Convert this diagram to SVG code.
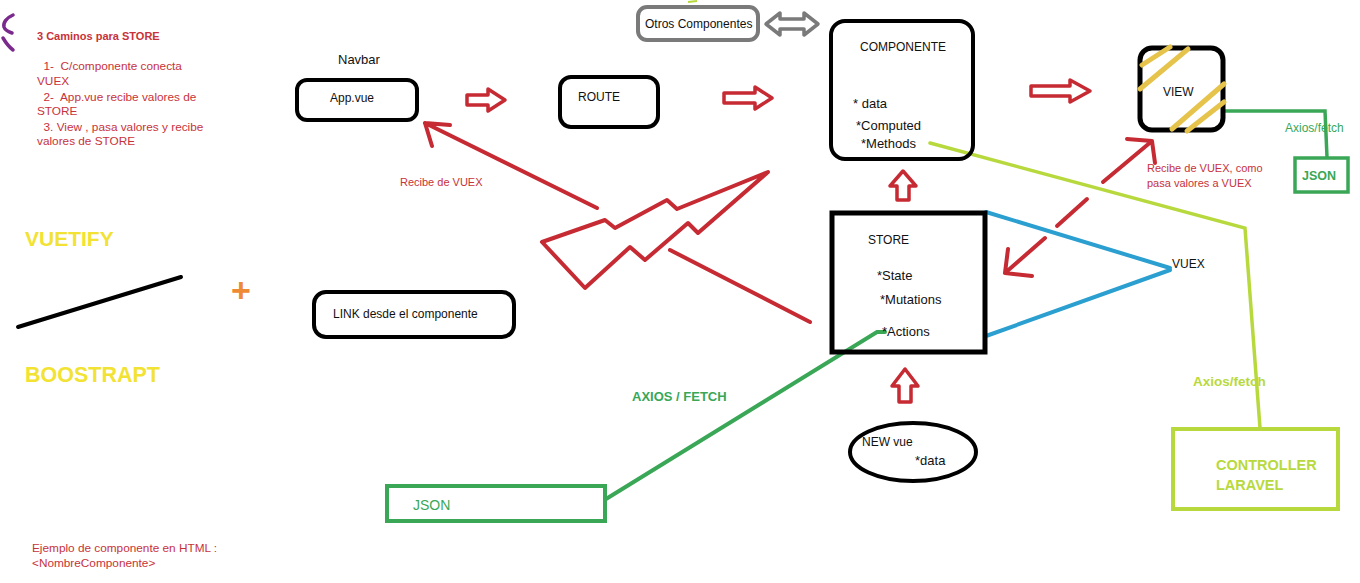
<svg xmlns="http://www.w3.org/2000/svg" width="1360" height="583" viewBox="0 0 1360 583">
<style>
  text { font-family: "Liberation Sans", Arial, sans-serif; }
  .t { font-size: 12px; fill: #111; }
  .m { font-size: 13px; fill: #111; }
  .red { font-size: 11px; fill: #c8323a; }
  .note { font-size: 11.8px; fill: #c8323a; }
  .box { fill: none; stroke: #000; stroke-width: 4; }
  .hollow { fill: #fff; stroke: #c62a32; stroke-width: 3.5; stroke-linejoin: round; }
  .redline { fill: none; stroke: #c62a32; stroke-width: 4; stroke-linecap: round; stroke-linejoin: round; }
  .green { stroke: #3aa757; }
  .lime { stroke: #b8d93e; }
  .gtext { fill: #3aa757; }
  .ltext { fill: #b8d93e; }
  .hatch { stroke: #e6c34a; stroke-width: 5; stroke-linecap: round; }
</style>

<!-- decorative marks -->
<g id="mark">
  <path d="M13,15 C6,18 3,23 4,27 C5,30 9,32 12,33 M3,38 C6,43 9,47 13,50" fill="none" stroke="#7a2a8c" stroke-width="3.5" stroke-linecap="round"/>
  <path d="M688,2 L697,1" fill="none" stroke="#b8d93e" stroke-width="2"/>
</g>

<!-- notes -->
<g id="notes">
  <text class="red" x="37" y="40" font-weight="bold">3 Caminos para STORE</text>
  <text class="note" x="37" y="70" xml:space="preserve">  1-  C/componente conecta</text>
  <text class="note" x="37" y="85">VUEX</text>
  <text class="note" x="37" y="101" xml:space="preserve">  2-  App.vue recibe valores de</text>
  <text class="note" x="37" y="115">STORE</text>
  <text class="note" x="37" y="131" xml:space="preserve">  3. View , pasa valores y recibe</text>
  <text class="note" x="37" y="145">valores de STORE</text>
  <text class="note" x="32" y="552">Ejemplo de componente en HTML :</text>
  <text class="note" x="32" y="567">&lt;NombreComponente&gt;</text>
</g>

<g id="frameworks">
  <text x="25" y="246" font-size="21" font-weight="bold" fill="#f2e233">VUETIFY</text>
  <line x1="18" y1="327" x2="181" y2="277" stroke="#000" stroke-width="4" stroke-linecap="round"/>
  <text x="25" y="382" font-size="21.5" font-weight="bold" fill="#f2e233">BOOSTRAPT</text>
  <text x="241" y="302" font-size="34" font-weight="bold" fill="#ef8a34" text-anchor="middle">+</text>
</g>

<!-- connectors -->
<g id="connectors">
  <!-- hollow arrows -->
  <path class="hollow" d="M467,95 L488,95 L488,89 L505,100 L488,111 L488,105 L467,105 Z"/>
  <path class="hollow" d="M724,93 L755,93 L755,87 L772,98 L755,109 L755,103 L724,103 Z"/>
  <path class="hollow" d="M1031,86 L1070,86 L1070,80 L1090,91 L1070,102 L1070,96 L1031,96 Z"/>
  <path class="hollow" d="M897,200 L897,186 L890,186 L903,171 L916,186 L909,186 L909,200 Z"/>
  <path class="hollow" d="M899,402 L899,386 L892,386 L905,369 L918,386 L911,386 L911,402 Z"/>
  <path d="M766,24 L780,13 L780,19 L804,19 L804,13 L818,24 L804,35 L804,29 L780,29 L780,35 Z" fill="#fff" stroke="#7a7a7a" stroke-width="3.5" stroke-linejoin="round"/>

  <!-- red lines to App.vue -->
  <path class="redline" d="M597,208 L425,123 M425,123 L450,125 M425,123 L432,146"/>
  <path class="redline" d="M670,250 L810,322"/>
  <!-- lightning bolt -->
  <path class="redline" d="M542,242 L605,220 L615,228 L667,200 L677,209 L768,172 L698,233 L688,223 L645,260 L630,247 L585,288 Z"/>

  <!-- red arrows between STORE and VIEW -->
  <path class="redline" d="M1045,238 L1005,273 M1005,273 L1008,249 M1005,273 L1032,276"/>
  <path class="redline" d="M1057,226 L1087,199"/>
  <path class="redline" d="M1103,182 L1152,141 M1152,141 L1127,139 M1152,141 L1155,163"/>

  <!-- VUEX blue lines -->
  <path d="M986,212 L1170,268 M986,336 L1170,270" fill="none" stroke="#2b9fd0" stroke-width="4" stroke-linecap="round"/>

  <!-- green JSON to Actions -->
  <path class="green" d="M606,499 L877,332 L885,332" fill="none" stroke-width="4" stroke-linecap="round"/>
  <text x="632" y="401" font-size="13" font-weight="bold" class="gtext">AXIOS / FETCH</text>

  <!-- green VIEW to JSON -->
  <path class="green" d="M1224,111 L1325,111 L1327,157" fill="none" stroke-width="3.5"/>
  <text x="1285" y="132" font-size="12" class="gtext">Axios/fetch</text>

  <!-- lime Methods to Controller -->
  <path class="lime" d="M930,143 L1245,228 L1260,428" fill="none" stroke-width="3.5" stroke-linecap="round"/>
  <text x="1193" y="386" font-size="13.5" font-weight="bold" class="ltext">Axios/fetch</text>

  <text class="red" x="400" y="186">Recibe de VUEX</text>
  <text class="red" x="1147" y="172">Recibe de VUEX, como</text>
  <text class="red" x="1147" y="187">pasa valores a VUEX</text>
  <text class="t" x="1172" y="268" font-size="11">VUEX</text>
</g>

<g id="navbar">
  <text class="m" x="338" y="64">Navbar</text>
  <rect class="box" x="297" y="80" width="120" height="40" rx="10"/>
  <text class="t" x="330" y="102" font-size="11">App.vue</text>
</g>

<g id="route">
  <rect class="box" x="560" y="77" width="98" height="50" rx="11"/>
  <text class="t" x="578" y="101">ROUTE</text>
</g>

<g id="otros">
  <rect x="638" y="7" width="120" height="33" rx="9" fill="none" stroke="#7a7a7a" stroke-width="4"/>
  <text class="t" x="645" y="28" font-size="11">Otros Componentes</text>
</g>

<g id="componente">
  <rect class="box" x="831" y="21" width="142" height="138" rx="14"/>
  <text class="t" x="860" y="51" font-size="12.5">COMPONENTE</text>
  <text class="m" x="853" y="108">* data</text>
  <text class="m" x="856" y="130">*Computed</text>
  <text class="m" x="861" y="148">*Methods</text>
</g>

<g id="view">
  <rect x="1140" y="48" width="83" height="82" rx="12" fill="none" stroke="#000" stroke-width="5"/>
  <line class="hatch" x1="1142" y1="65" x2="1170" y2="47"/>
  <line class="hatch" x1="1140" y1="89" x2="1188" y2="49"/>
  <line class="hatch" x1="1172" y1="129" x2="1224" y2="84"/>
  <line class="hatch" x1="1187" y1="131" x2="1224" y2="102"/>
  <text class="t" x="1163" y="96">VIEW</text>
</g>

<g id="json-right">
  <rect x="1295" y="158" width="53" height="34" fill="none" stroke="#3aa757" stroke-width="3.5"/>
  <text x="1302" y="180" font-size="12.5" font-weight="bold" class="gtext">JSON</text>
</g>

<g id="store">
  <rect x="832" y="213" width="153" height="139" fill="none" stroke="#000" stroke-width="5"/>
  <text class="t" x="868" y="244">STORE</text>
  <text class="m" x="877" y="280">*State</text>
  <text class="m" x="880" y="304">*Mutations</text>
  <text class="m" x="882" y="336">*Actions</text>
</g>

<g id="link">
  <rect class="box" x="314" y="292" width="200" height="45" rx="12"/>
  <text class="t" x="333" y="318" font-size="13.5">LINK desde el componente</text>
</g>

<g id="newvue">
  <ellipse class="box" cx="913" cy="452" rx="63" ry="29"/>
  <text class="t" x="862" y="446">NEW vue</text>
  <text class="m" x="915" y="465">*data</text>
</g>

<g id="json-bottom">
  <rect x="387" y="486" width="218" height="35" fill="none" stroke="#3aa757" stroke-width="4"/>
  <text x="413" y="510" font-size="14" class="gtext">JSON</text>
</g>

<g id="controller">
  <rect x="1173" y="429" width="165" height="80" fill="none" stroke="#b8d93e" stroke-width="4"/>
  <text x="1216" y="470" font-size="14.5" font-weight="bold" class="ltext">CONTROLLER</text>
  <text x="1216" y="490" font-size="14.5" font-weight="bold" class="ltext">LARAVEL</text>
</g>
</svg>
